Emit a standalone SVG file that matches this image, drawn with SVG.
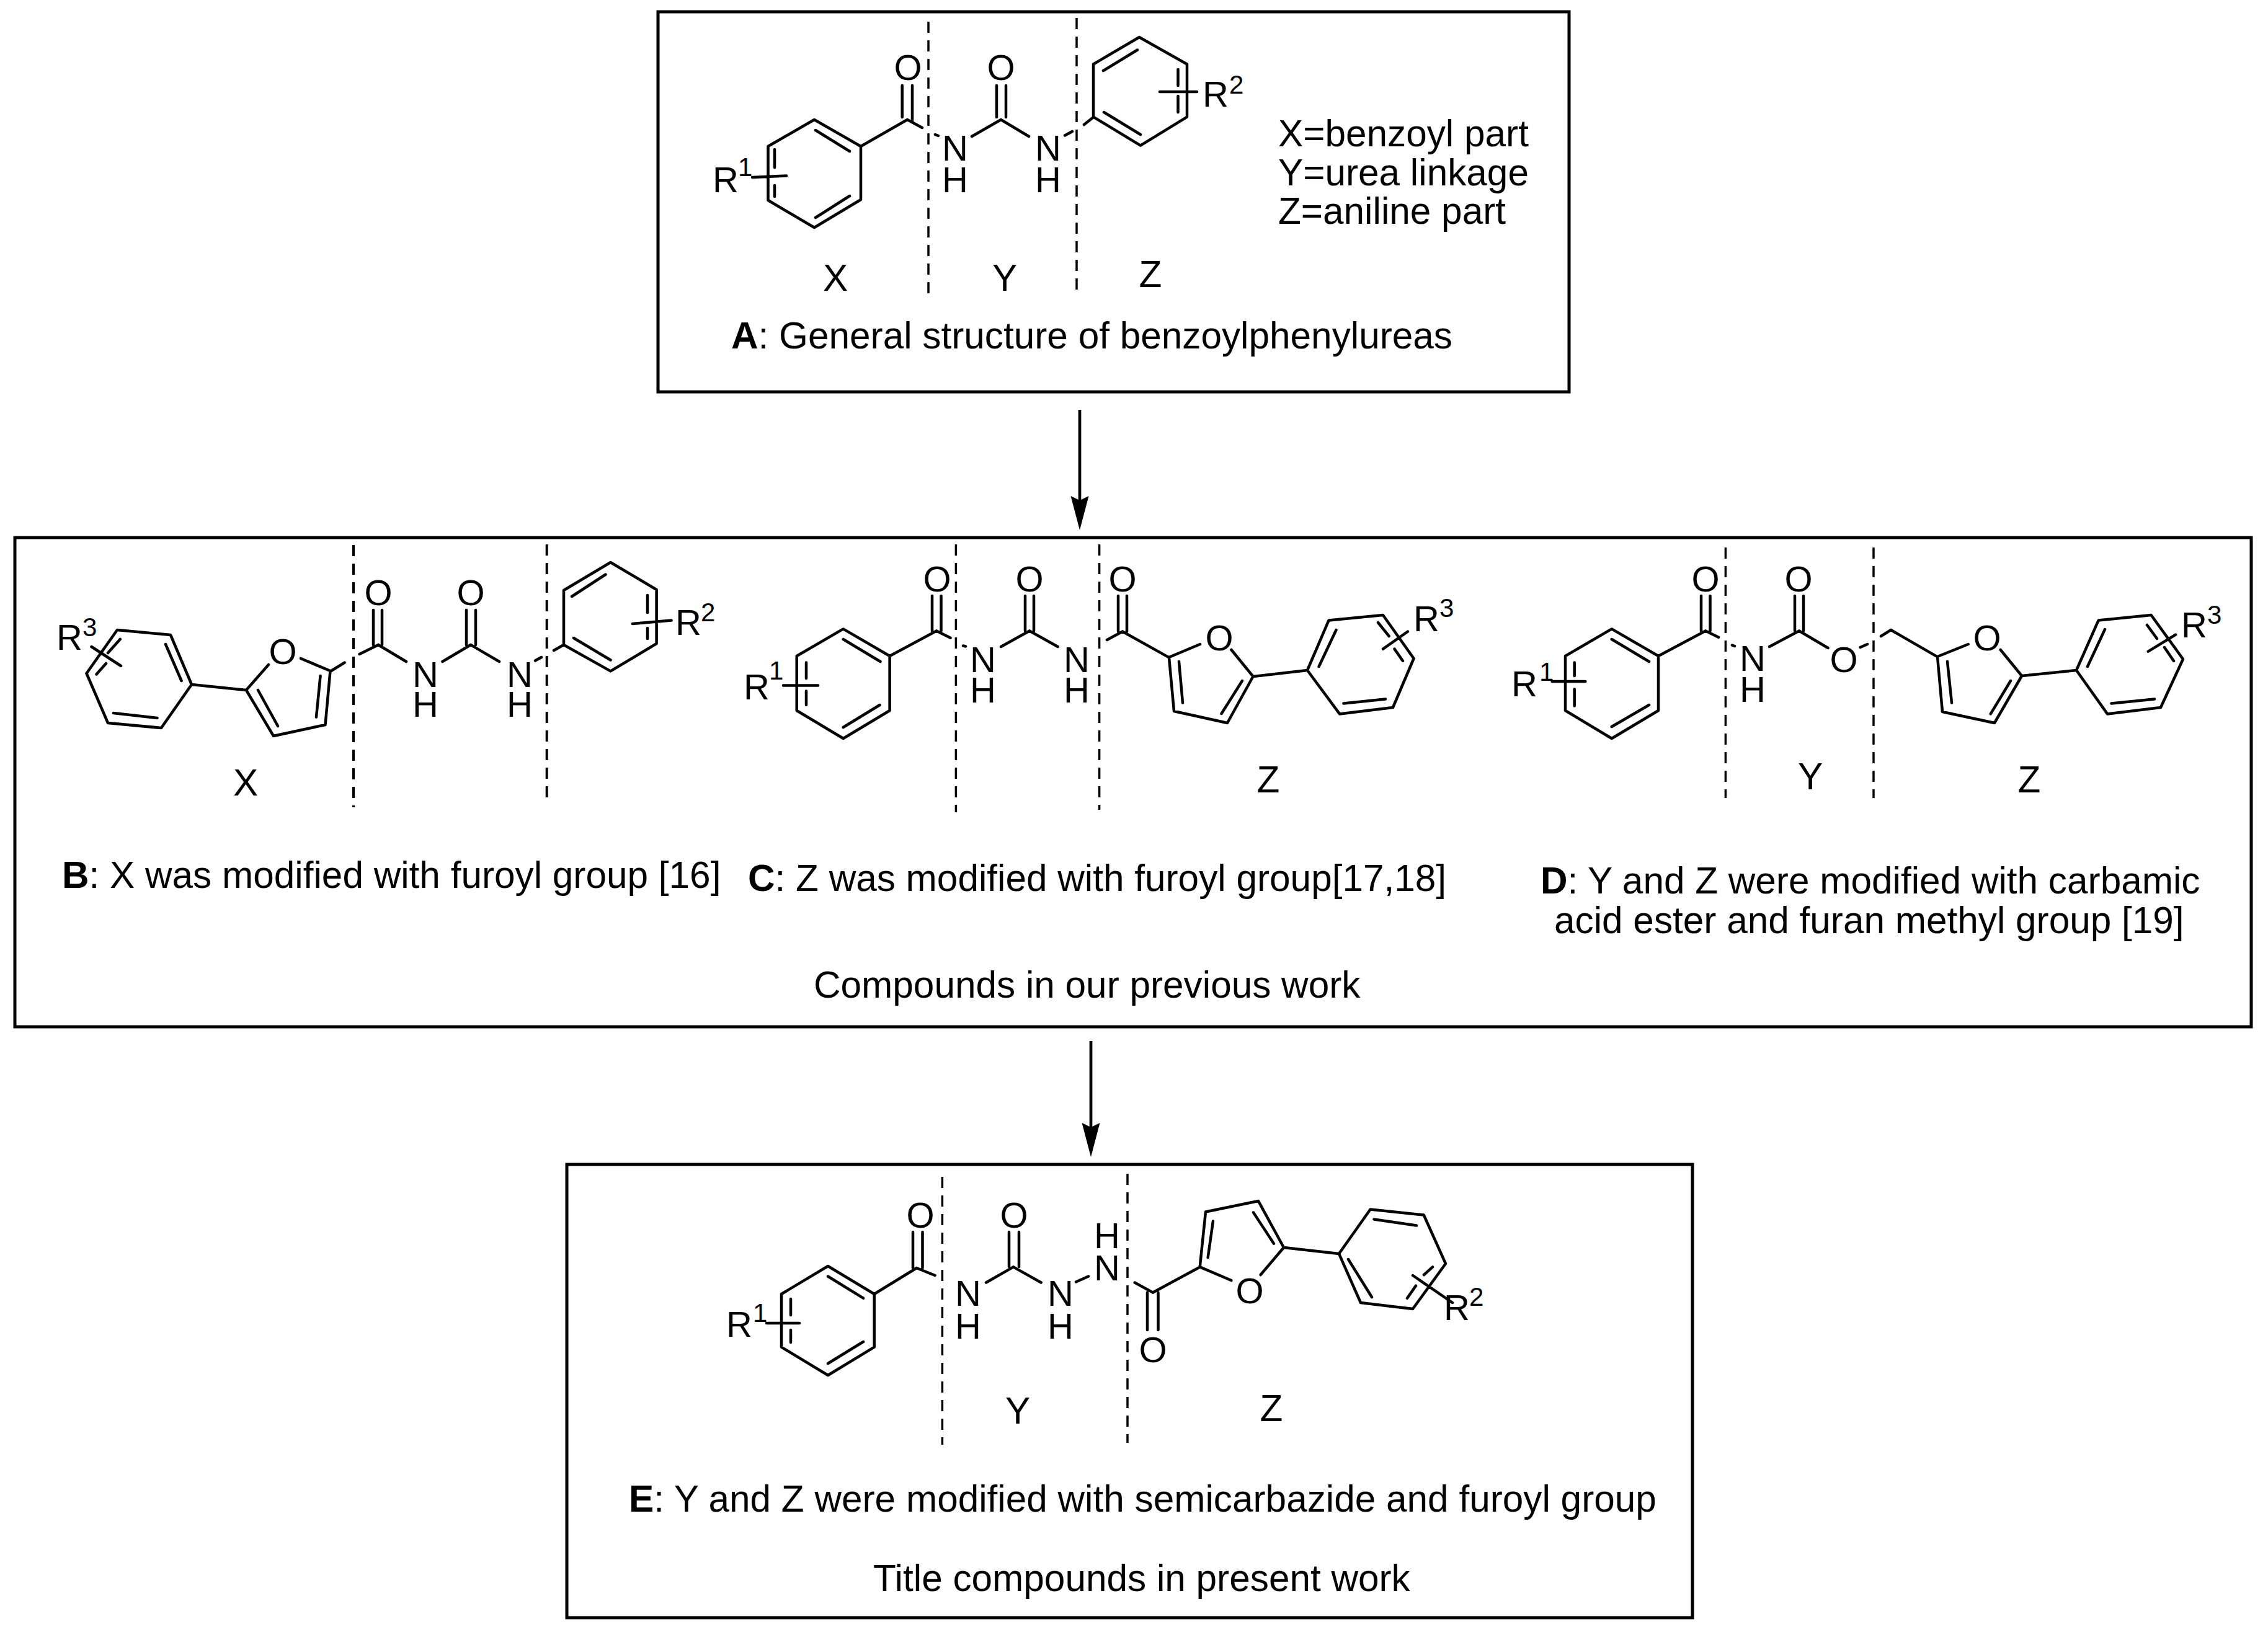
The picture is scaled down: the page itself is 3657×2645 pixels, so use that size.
<svg xmlns="http://www.w3.org/2000/svg" width="3657" height="2645" viewBox="0 0 3657 2645">
<defs>
<marker id="arrow" markerUnits="userSpaceOnUse" markerWidth="58" markerHeight="32" refX="12" refY="16" orient="auto" viewBox="0 0 58 32"><path d="M2 1.500L57 16L2 30.500L9 16Z" fill="#000"/></marker>
</defs>
<style>
text{font-family:"Liberation Sans",Arial,Helvetica,sans-serif;fill:#000}
.box{fill:#fff;stroke:#000;stroke-width:5}
.b{fill:none;stroke:#000;stroke-width:4.500;stroke-linecap:round;stroke-linejoin:round}
.d{fill:none;stroke:#000;stroke-width:3.500;stroke-dasharray:18 12}
.a{font-size:58px;text-anchor:middle}
.s{font-size:42px}
.c{font-size:60.300px}
.l{font-size:60.300px;text-anchor:middle}
.k{font-weight:bold}
.cn{fill:none;stroke:#000;stroke-width:4.700}
</style>
<rect width="3657" height="2645" fill="#fff"/>
<g id="panel-A">
<rect class="box" x="1061" y="19" width="1469" height="613"/>
<path class="b" d="M1313 193L1388 236L1388 322L1313 367L1238.500 323L1238.500 236ZM1315 210L1370 244M1315 351L1370 316M1249 241V270M1249 299V317M1213 286L1268 283.500M1388 236L1463 193M1454.700 138V189M1471 138V197M1463 193L1487 206M1508 217L1513 219M1567 220L1614 193M1607 138V189M1622 138V189M1614 193L1659 220M1717 218.500L1729 212M1748 201L1763 189M1763 188.600V103.500L1837 60L1914 103.500V188.600L1839 234.600L1763 188.600M1779 114L1834 80.500M1780 181L1839 217M1899.500 112V138M1899.500 155V181M1870 148H1930"/>
<path class="d" d="M1497 35V478M1736 29V473"/>
<text class="a" x="1464" y="129">O</text><text class="a" x="1614" y="129">O</text>
<text class="a" x="1540" y="259">N</text><text class="a" x="1540" y="310">H</text>
<text class="a" x="1690" y="259">N</text><text class="a" x="1690" y="310">H</text>
<text class="a" x="1170" y="310">R</text><text class="s" x="1190" y="284">1</text>
<text class="a" x="1960" y="172">R</text><text class="s" x="1982" y="151">2</text>
<text class="l" x="1347" y="469">X</text><text class="l" x="1620" y="469">Y</text><text class="l" x="1855" y="463">Z</text>
<text class="c" x="2061" y="236">X=benzoyl part</text>
<text class="c" x="2061" y="299">Y=urea linkage</text>
<text class="c" x="2061" y="361">Z=aniline part</text>
<text class="c" x="1179" y="562"><tspan class="k">A</tspan>: General structure of benzoylphenylureas</text>
</g>
<g id="panel-BCD">
<rect class="box" x="24" y="867" width="3606" height="789"/>
<text class="c" x="1312" y="1609">Compounds in our previous work</text>
</g>
<g id="compound-B">
<path class="b" d="M189 1016L275 1024L309 1104L260 1174L174 1166L139.500 1086ZM267 1039L292.600 1098M183 1150L253.500 1158M193.700 1031L174 1053M171 1070L155.500 1087.500M147.500 1043L195 1074M309 1104L397 1113L441 1187L524.500 1169L532.500 1082M397 1113L433 1072M485 1062L532.500 1082M416 1113L448 1171M516.600 1090L510 1156.500M534 1082L555.600 1068.600M579.600 1055L610 1040M602 984V1040M616 984V1040M610 1040L655 1067M713.500 1067L759 1040M752 984V1040M767 984V1040M759 1040L805 1067M863 1065.500L873 1060M893 1049L909 1040V952L984.500 907L1058.600 951V1038L984.500 1082.400L909 1040M922 962L976.500 926.500M925 1029L984.500 1064.500M1044 960V988M1044 1013V1030M1020 1006L1082.600 1000.600"/>
<path class="d" style="stroke-width:4" d="M570 879V1302M881.700 878V1292"/>
<text class="a" x="456" y="1071">O</text><text class="a" x="610" y="976">O</text><text class="a" x="759" y="976">O</text>
<text class="a" x="686" y="1108">N</text><text class="a" x="686" y="1156">H</text>
<text class="a" x="838" y="1108">N</text><text class="a" x="838" y="1156">H</text>
<text class="a" x="112" y="1048">R</text><text class="s" x="133" y="1026">3</text>
<text class="a" x="1110" y="1024">R</text><text class="s" x="1130" y="1002">2</text>
<text class="l" x="396" y="1283">X</text>
<text class="c" x="100" y="1432"><tspan class="k">B</tspan>: X was modified with furoyl group [16]</text>
</g>
<g id="compound-C">
<path class="b" d="M1359.700 1014.400L1434.600 1058V1146L1359.700 1191L1284.700 1146V1058ZM1359.700 1031L1419.500 1067M1359.700 1173L1418.600 1137M1300 1068.600V1094M1300 1114.600V1137M1263 1105.400H1319M1434.600 1058L1510 1017.500M1503 961V1017.500M1517.500 961V1017.500M1510 1017.500L1532.600 1028.700M1553 1041.500L1557 1042.500M1614 1043L1660 1017.500M1653 961V1017.500M1667 961V1017.500M1660 1017.500L1705.600 1043M1785 1032L1810 1018.500M1803 961V1018.500M1817 961V1018.500M1810 1018.500L1885 1060.400L1893 1147L1979 1166L2020.500 1091M1885 1060L1935 1039M1985.500 1048L2020.500 1091M1901 1067L1907 1133.500M2003 1098L1969.500 1151M2020.500 1091L2108 1081L2142.500 1000.600L2230 992L2279.600 1062L2246 1141L2160 1151.400L2108 1081M2154.500 1016L2126.600 1075M2166.400 1134.500L2234 1127.400M2222 1004L2239.700 1026M2248.500 1046.600L2262 1066M2230 1046.600L2270 1018.500"/>
<path class="d" d="M1541.400 878V1310M1772.600 878V1306"/>
<text class="a" x="1511" y="954">O</text><text class="a" x="1660" y="954">O</text><text class="a" x="1810" y="954">O</text><text class="a" x="1966" y="1049">O</text>
<text class="a" x="1585" y="1084">N</text><text class="a" x="1585" y="1133">H</text>
<text class="a" x="1736" y="1084">N</text><text class="a" x="1736" y="1133">H</text>
<text class="a" x="1220" y="1128">R</text><text class="s" x="1240" y="1096">1</text>
<text class="a" x="2300" y="1018">R</text><text class="s" x="2321" y="995">3</text>
<text class="l" x="2045" y="1278">Z</text>
<text class="c" x="1206" y="1437"><tspan class="k">C</tspan>: Z was modified with furoyl group[17,18]</text>
</g>
<g id="compound-D">
<path class="b" d="M2598.800 1014.400L2674 1058V1146L2598.800 1191L2524 1146V1058ZM2598.800 1031L2659 1067M2598.800 1172L2659 1137M2538.700 1068.600V1090M2538.700 1111.500V1138.600M2502.600 1099H2556.300M2674 1058L2750 1017.500M2743 961V1017.500M2757.500 961V1017.500M2750 1017.500L2771 1027.700M2793 1040.500L2797 1042M2853 1043L2901 1017.500M2894 961V1017.500M2908 961V1017.500M2901 1017.500L2947.500 1045M2999.600 1044L3011 1039M3033 1026L3049 1016L3124 1059.400L3132 1148L3216 1166L3260 1090M3124 1059L3173.600 1039M3225.700 1048L3260 1090M3140 1067L3147 1133.500M3242 1098L3209.700 1151.400M3260 1090L3348 1081L3383.600 1000.600L3468.600 992L3520 1063L3484 1141L3398 1151.400L3348 1081M3394 1015L3366 1075M3404.500 1134.500L3474 1127.400M3462 1008L3478 1030M3490 1044L3505 1066M3463.800 1050.700L3508 1023.600"/>
<path class="d" d="M2782.400 883V1287M3021 883V1287"/>
<text class="a" x="2750" y="954">O</text><text class="a" x="2900" y="954">O</text><text class="a" x="2973" y="1084">O</text><text class="a" x="3204" y="1049">O</text>
<text class="a" x="2826" y="1082">N</text><text class="a" x="2826" y="1132">H</text>
<text class="a" x="2458" y="1123">R</text><text class="s" x="2482" y="1098">1</text>
<text class="a" x="3538" y="1028">R</text><text class="s" x="3559" y="1006">3</text>
<text class="l" x="2919" y="1273">Y</text><text class="l" x="3272" y="1278">Z</text>
<text class="c" x="2484" y="1441"><tspan class="k">D</tspan>: Y and Z were modified with carbamic</text>
<text class="c" x="2506" y="1505">acid ester and furan methyl group [19]</text>
</g>
<g id="panel-E">
<rect class="box" x="914" y="1878" width="1815" height="731"/>
<path class="b" d="M1335 2042L1409.700 2087V2172.600L1335 2218L1260 2172.600V2087ZM1335 2058.500L1392 2093.700M1335 2199L1392 2164M1275 2095V2121M1275 2145V2165M1236 2134H1289M1409.700 2087L1478 2045M1472 1987V2045M1487.500 1987V2045M1478 2045L1507.600 2057M1590 2068.500L1634 2043.400M1627 1987V2043M1643 1987V2043M1634 2043.400L1678.700 2068.500M1735 2067.500L1755 2058.500M1829.700 2068.500L1859 2084.600M1850 2084.600V2145M1867.500 2084.600V2145M1859 2084.600L1934.700 2043.400L1944 1954.500L2029 1937L2070 2012M1934.700 2043.400L1985.400 2065M2032.600 2056L2070 2012M1956 1969.500L1947.700 2028M2021 1955.500L2054 2005.700M2070 2012L2159 2022L2209.600 1950.500L2295.700 1959.500L2331 2038L2278 2111L2194 2101L2159 2022M2215.500 1966.500L2284 1976.600M2174 2031L2212 2092M2310 2043.400L2296 2056M2283 2073.600L2269 2093.700M2278 2057L2342 2101"/>
<path class="d" d="M1519.400 1898V2330M1818 1893V2327"/>
<text class="a" x="1484" y="1980">O</text><text class="a" x="1635" y="1980">O</text><text class="a" x="1859" y="2197">O</text><text class="a" x="2015" y="2102">O</text>
<text class="a" x="1561" y="2106">N</text><text class="a" x="1561" y="2159">H</text>
<text class="a" x="1710" y="2106">N</text><text class="a" x="1710" y="2159">H</text>
<text class="a" x="1785" y="2065">N</text><text class="a" x="1785" y="2013">H</text>
<text class="a" x="1192" y="2156">R</text><text class="s" x="1214" y="2132">1</text>
<text class="a" x="2349" y="2129">R</text><text class="s" x="2369" y="2106">2</text>
<text class="l" x="1641" y="2296">Y</text><text class="l" x="2050" y="2292">Z</text>
<text class="c" x="1014" y="2438"><tspan class="k">E</tspan>: Y and Z were modified with semicarbazide and furoyl group</text>
<text class="c" x="1408" y="2566">Title compounds in present work</text>
</g>
<g id="connectors">
<path class="cn" d="M1741 661V810" marker-end="url(#arrow)"/>
<path class="cn" d="M1759 1679V1821" marker-end="url(#arrow)"/>
</g>
</svg>
